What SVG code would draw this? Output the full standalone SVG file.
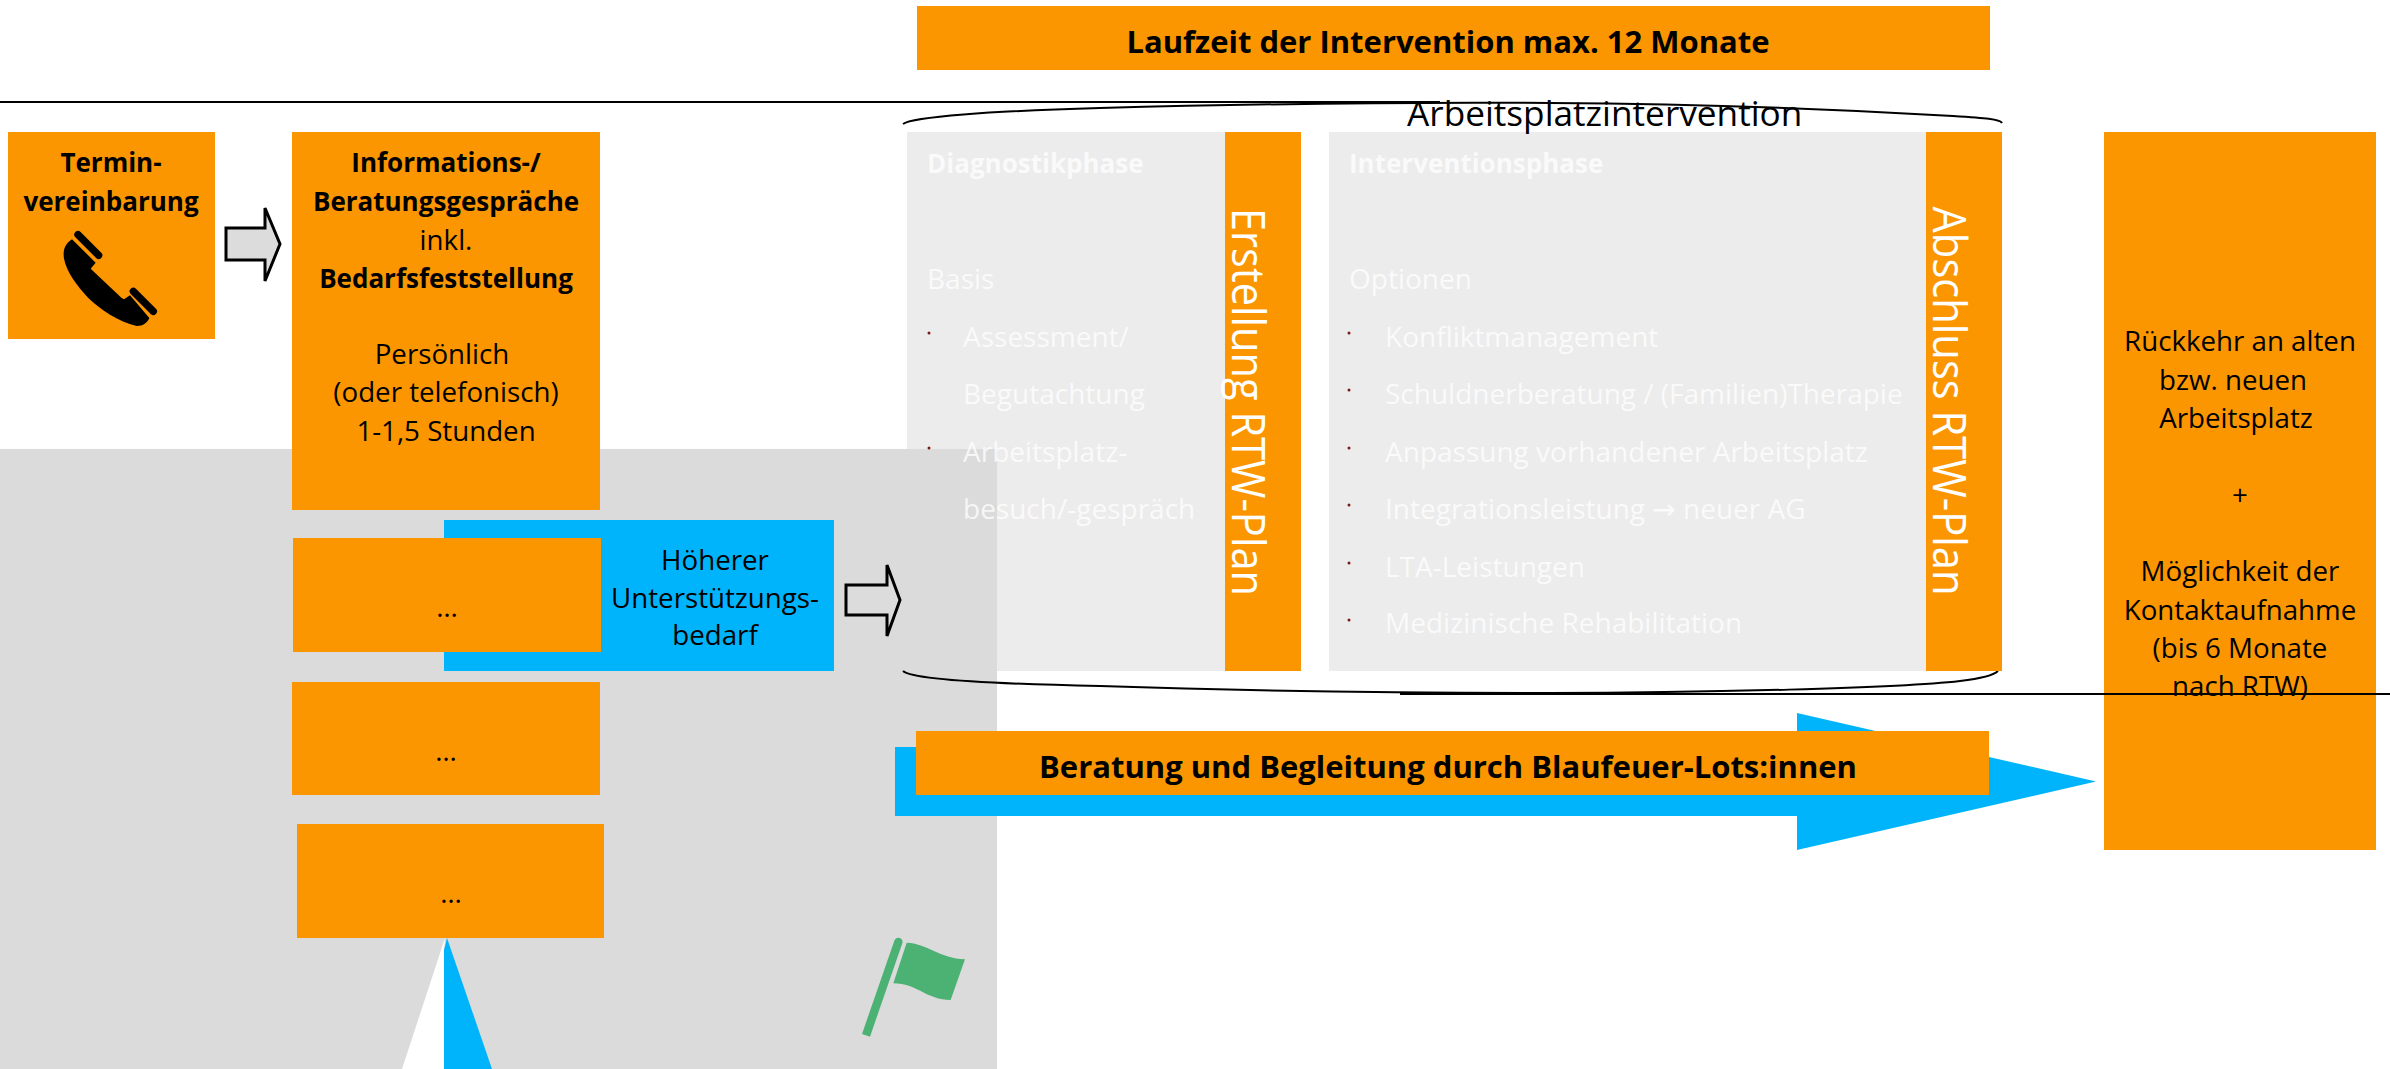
<svg xmlns="http://www.w3.org/2000/svg" width="2390" height="1069" viewBox="0 0 2390 1069">
<style>
text{font-family:"Open Sans","Noto Sans","Liberation Sans",sans-serif;fill:#000}
.o{fill:#fb9600}.b{fill:#00b4fb}.l{fill:#ececec}
.t{font-size:27.700px;text-anchor:middle}
.h{font-weight:700;font-size:26px;text-anchor:middle}
.big{font-weight:700;font-size:31px;text-anchor:middle}
.w{fill:#fff;font-size:28px;opacity:.75}
.wb{fill:#fff;font-size:26px;font-weight:700;opacity:.75}
.v{fill:#fff;font-size:45px;text-anchor:middle}
.bu{fill:#7a1a1a}
.ar{stroke:#000;stroke-width:3;fill:#dcdcdc}
.br{fill:none;stroke:#000;stroke-width:2}
</style>
<rect width="2390" height="1069" fill="#fff"/>
<g id="light-boxes">
<rect class="l" x="907" y="132" width="394" height="539"/>
<rect class="l" x="1329" y="132" width="673" height="539"/>
</g>
<rect id="grey-panel" x="0" y="449" width="997" height="620" fill="#dbdbdb"/>
<g id="connectors">
<path class="br" d="M0,102H1440"/>
<path class="br" d="M903,124C912,117 990,111 1100,108C1250,104 1400,102 1550,103C1700,104 1850,110 1953,116C1985,118 2000,119 2002,123"/>
<path class="br" d="M903,671C912,680 1000,684 1100,686C1250,691 1400,693 1550,693C1700,693 1900,688 1960,681C1985,678 1994,675 1998,671"/>
<path class="br" d="M1400,694H2390"/>
<path class="ar" d="M226,228H265V208L280,244L265,281V260H226Z"/>
<path class="ar" d="M846,585H887V565L900,600L887,636V615H846Z"/>
</g>
<g id="top-bar">
<rect class="o" x="917" y="6" width="1073" height="64"/>
<text class="big" x="1448" y="53">Laufzeit der Intervention max. 12 Monate</text>
</g>
<text id="arbeitsplatz-title" x="1407" y="126" style="font-size:35.200px">Arbeitsplatzintervention</text>
<g id="termin">
<rect class="o" x="8" y="132" width="207" height="207"/>
<text class="h" x="111" y="172">Termin-</text>
<text class="h" x="111" y="211">vereinbarung</text>
<g transform="translate(50,222) scale(.3333)">
<path d="M66,52C45,65 38,85 42,110C50,150 80,190 115,228C150,262 205,300 260,312C280,312 292,302 298,288L240,220L222,232L215,228L122,140L137,122Z"/>
<path d="M84,38L146,100M250,208L310,268" fill="none" stroke="#000" stroke-width="22" stroke-linecap="round"/>
</g>
</g>
<g id="info">
<rect class="o" x="292" y="132" width="308" height="378"/>
<text class="h" x="446" y="172">Informations-/</text>
<text class="h" x="446" y="211">Beratungsgespräche</text>
<text class="t" x="446" y="250">inkl.</text>
<text class="h" x="446" y="288">Bedarfsfeststellung</text>
<text class="t" x="442" y="364">Persönlich</text>
<text class="t" x="446" y="402">(oder telefonisch)</text>
<text class="t" x="446" y="441">1-1,5 Stunden</text>
</g>
<g id="hoeher">
<rect class="b" x="444" y="520" width="390" height="151"/>
<text class="t" x="715" y="570">Höherer</text>
<text class="t" x="715" y="608">Unterstützungs-</text>
<text class="t" x="715" y="645">bedarf</text>
</g>
<g id="box1"><rect class="o" x="293" y="538" width="308" height="114"/><text class="t" x="447" y="617">…</text></g>
<g id="box2"><rect class="o" x="292" y="682" width="308" height="113"/><text class="t" x="446" y="761">…</text></g>
<g id="box3"><rect class="o" x="297" y="824" width="307" height="114"/><text class="t" x="451" y="903">…</text></g>
<g id="bottom-arrow">
<path d="M445,938L402,1069H444V950Z" fill="#fff"/>
<path class="b" d="M447,938L492,1069H444V950Z"/>
</g>
<g id="flag" transform="translate(860,930) scale(.3333)" fill="#4cb274">
<path d="M103,32A12.500,12.500 0 0 1 127,40L30,320L6,312Z"/>
<path d="M140,38C200,40 240,85 315,88L272,210C200,210 170,160 100,160Z"/>
</g>
<g id="diagnostik">
<rect class="o" x="1225" y="132" width="76" height="539"/>
<text class="wb" x="927" y="173">Diagnostikphase</text>
<text class="w" x="927" y="289">Basis</text>
<text class="w" x="963" y="347">Assessment/</text>
<text class="w" x="963" y="404">Begutachtung</text>
<text class="w" x="963" y="462">Arbeitsplatz-</text>
<text class="w" x="963" y="519">besuch/-gespräch</text>
<circle class="bu" cx="929" cy="333" r="1.500"/><circle class="bu" cx="929" cy="448" r="1.500"/>
<text class="v" transform="translate(1232,402) rotate(90)" textLength="388" lengthAdjust="spacingAndGlyphs">Erstellung RTW-Plan</text>
</g>
<g id="intervention">
<rect class="o" x="1926" y="132" width="76" height="539"/>
<text class="wb" x="1349" y="173">Interventionsphase</text>
<text class="w" x="1349" y="289">Optionen</text>
<text class="w" x="1385" y="347">Konfliktmanagement</text>
<text class="w" x="1385" y="404">Schuldnerberatung / (Familien)Therapie</text>
<text class="w" x="1385" y="462">Anpassung vorhandener Arbeitsplatz</text>
<text class="w" x="1385" y="519">Integrationsleistung <tspan font-family="DejaVu Sans">→</tspan> neuer AG</text>
<text class="w" x="1385" y="577">LTA-Leistungen</text>
<text class="w" x="1385" y="633">Medizinische Rehabilitation</text>
<g class="bu"><circle cx="1349" cy="333" r="1.500"/><circle cx="1349" cy="390" r="1.500"/><circle cx="1349" cy="448" r="1.500"/><circle cx="1349" cy="505" r="1.500"/><circle cx="1349" cy="563" r="1.500"/><circle cx="1349" cy="620" r="1.500"/></g>
<text class="v" transform="translate(1933,401) rotate(90)" textLength="389" lengthAdjust="spacingAndGlyphs">Abschluss RTW-Plan</text>
</g>
<g id="ruckkehr">
<rect class="o" x="2104" y="132" width="272" height="718"/>
<text class="t" x="2240" y="351">Rückkehr an alten</text>
<text class="t" x="2233" y="390">bzw. neuen</text>
<text class="t" x="2236" y="428">Arbeitsplatz</text>
<text class="t" x="2240" y="505">+</text>
<text class="t" x="2240" y="581">Möglichkeit der</text>
<text class="t" x="2240" y="620">Kontaktaufnahme</text>
<text class="t" x="2240" y="658">(bis 6 Monate</text>
<text class="t" x="2240" y="696">nach RTW)</text>
</g>
<path id="line-over" class="br" d="M2104,694H2390"/>
<g id="lotsen">
<path class="b" d="M895,747H1797V713L2096,781.500L1797,850V816H895Z"/>
<rect class="o" x="916" y="731" width="1073" height="64"/>
<text class="big" x="1448" y="778">Beratung und Begleitung durch Blaufeuer-Lots:innen</text>
</g>
</svg>
